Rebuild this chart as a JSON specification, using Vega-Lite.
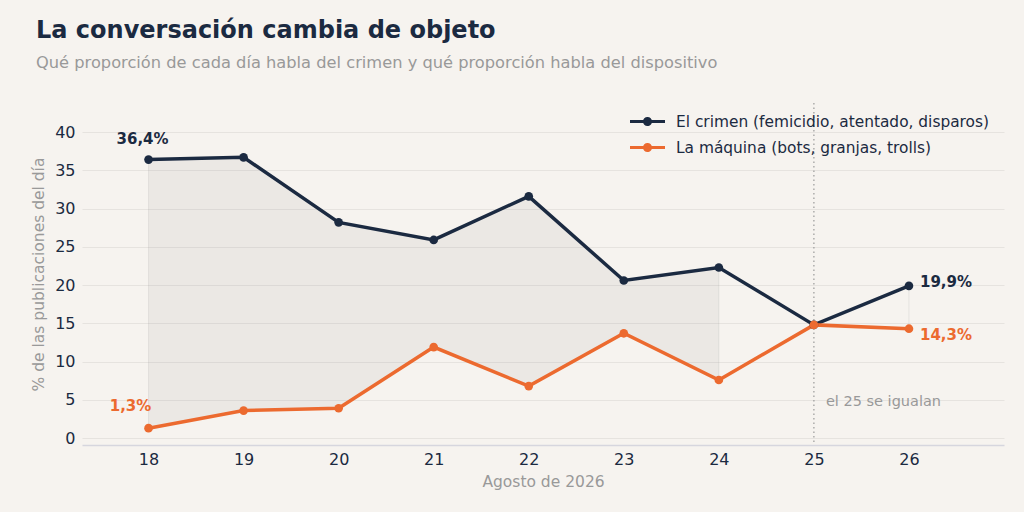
{
  "$schema": "https://vega.github.io/schema/vega-lite/v6.json",
  "description": "La conversación cambia de objeto",
  "width": 922,
  "height": 342,
  "autosize": {"type": "none"},
  "padding": {"left": 82, "top": 103, "right": 20, "bottom": 67},
  "background": "#f6f3ef",
  "title": {
    "text": "La conversación cambia de objeto",
    "subtitle": "Qué proporción de cada día habla del crimen y qué proporción habla del dispositivo",
    "anchor": "start",
    "frame": "group",
    "dx": -46,
    "offset": 31,
    "font": "DejaVu Sans",
    "fontSize": 24,
    "fontWeight": "bold",
    "color": "#1b2a41",
    "subtitleFont": "DejaVu Sans",
    "subtitleFontSize": 16.25,
    "subtitleColor": "#999999",
    "subtitlePadding": 12
  },
  "data": {
    "values": [
      {"dia": 18, "serie": "crimen", "valor": 36.4},
      {"dia": 19, "serie": "crimen", "valor": 36.7},
      {"dia": 20, "serie": "crimen", "valor": 28.2},
      {"dia": 21, "serie": "crimen", "valor": 25.9},
      {"dia": 22, "serie": "crimen", "valor": 31.6},
      {"dia": 23, "serie": "crimen", "valor": 20.6},
      {"dia": 24, "serie": "crimen", "valor": 22.3},
      {"dia": 25, "serie": "crimen", "valor": 14.8},
      {"dia": 26, "serie": "crimen", "valor": 19.9},
      {"dia": 18, "serie": "maquina", "valor": 1.3},
      {"dia": 19, "serie": "maquina", "valor": 3.6},
      {"dia": 20, "serie": "maquina", "valor": 3.9},
      {"dia": 21, "serie": "maquina", "valor": 11.9},
      {"dia": 22, "serie": "maquina", "valor": 6.8},
      {"dia": 23, "serie": "maquina", "valor": 13.7},
      {"dia": 24, "serie": "maquina", "valor": 7.6},
      {"dia": 25, "serie": "maquina", "valor": 14.8},
      {"dia": 26, "serie": "maquina", "valor": 14.3}
    ]
  },
  "transform": [
    {"calculate": "replace(format(datum.valor, '.1f'), '.', ',') + '%'", "as": "etiqueta"}
  ],
  "encoding": {
    "x": {
      "field": "dia",
      "type": "quantitative",
      "title": "Agosto de 2026",
      "scale": {"domain": [17.3, 27.0], "nice": false, "zero": false},
      "axis": {
        "values": [18, 19, 20, 21, 22, 23, 24, 25, 26],
        "format": "d",
        "grid": false,
        "domain": true,
        "domainColor": "#d6d6de",
        "domainWidth": 1.5,
        "labelPadding": 6,
        "titlePadding": 7
      }
    },
    "y": {
      "field": "valor",
      "type": "quantitative",
      "title": "% de las publicaciones del día",
      "scale": {"domain": [-0.9, 43.8], "nice": false, "zero": false},
      "axis": {
        "values": [0, 5, 10, 15, 20, 25, 30, 35, 40],
        "domain": false,
        "grid": true,
        "labelPadding": 7,
        "titlePadding": 8
      }
    }
  },
  "layer": [
    {
      "transform": [
        {"pivot": "serie", "value": "valor", "groupby": ["dia"]},
        {"filter": "datum.dia <= 24"}
      ],
      "mark": {"type": "area", "color": "#8a8a8a", "opacity": 0.1},
      "encoding": {
        "y": {"field": "crimen", "type": "quantitative"},
        "y2": {"field": "maquina"}
      }
    },
    {
      "transform": [
        {"pivot": "serie", "value": "valor", "groupby": ["dia"]},
        {"filter": "datum.dia == 18 || datum.dia == 24 || datum.dia == 26"}
      ],
      "mark": {"type": "rule", "color": "#8a8a8a", "opacity": 0.15, "strokeWidth": 1},
      "encoding": {
        "y": {"field": "crimen", "type": "quantitative"},
        "y2": {"field": "maquina"}
      }
    },
    {
      "transform": [{"filter": "datum.dia == 25 && datum.serie == 'crimen'"}],
      "mark": {"type": "rule", "color": "#999999", "strokeWidth": 1.2, "strokeDash": [1.5, 3]},
      "encoding": {
        "y": {"datum": 43.8, "type": "quantitative"},
        "y2": {"datum": -0.9}
      }
    },
    {
      "mark": {"type": "line", "strokeWidth": 3.5, "point": {"filled": true, "size": 75}},
      "encoding": {
        "color": {
          "field": "serie",
          "type": "nominal",
          "scale": {"domain": ["crimen", "maquina"], "range": ["#1b2a41", "#ec6a2f"]},
          "legend": {
            "orient": "none",
            "legendX": 548,
            "legendY": 1,
            "title": null,
            "symbolType": "M-1,-0.09L1,-0.09L1,0.09L-1,0.09Z M-0.26,0A0.26,0.26 0 1,1 0.26,0A0.26,0.26 0 1,1 -0.26,0Z",
            "symbolSize": 1225,
            "symbolStrokeWidth": 0,
            "labelFont": "DejaVu Sans",
            "labelFontSize": 15.4,
            "labelColor": "#1b2a41",
            "labelOffset": 11,
            "labelLimit": 500,
            "rowPadding": 0,
            "labelExpr": "datum.value == 'crimen' ? 'El crimen (femicidio, atentado, disparos)' : 'La máquina (bots, granjas, trolls)'",
            "encode": {
              "symbols": {
                "update": {
                  "fill": {"scale": "color", "field": "value"},
                  "strokeWidth": {"value": 0}
                }
              }
            }
          }
        }
      }
    },
    {
      "transform": [{"filter": "datum.dia == 18 && datum.serie == 'crimen'"}],
      "mark": {"type": "text", "font": "DejaVu Sans", "fontSize": 15, "fontWeight": "bold", "color": "#1b2a41", "align": "center", "dx": -6, "dy": -21},
      "encoding": {"text": {"field": "etiqueta"}}
    },
    {
      "transform": [{"filter": "datum.dia == 18 && datum.serie == 'maquina'"}],
      "mark": {"type": "text", "font": "DejaVu Sans", "fontSize": 15, "fontWeight": "bold", "color": "#ec6a2f", "align": "center", "dx": -18, "dy": -22},
      "encoding": {"text": {"field": "etiqueta"}}
    },
    {
      "transform": [{"filter": "datum.dia == 26 && datum.serie == 'crimen'"}],
      "mark": {"type": "text", "font": "DejaVu Sans", "fontSize": 15, "fontWeight": "bold", "color": "#1b2a41", "align": "left", "dx": 11, "dy": -4},
      "encoding": {"text": {"field": "etiqueta"}}
    },
    {
      "transform": [{"filter": "datum.dia == 26 && datum.serie == 'maquina'"}],
      "mark": {"type": "text", "font": "DejaVu Sans", "fontSize": 15, "fontWeight": "bold", "color": "#ec6a2f", "align": "left", "dx": 11, "dy": 6},
      "encoding": {"text": {"field": "etiqueta"}}
    },
    {
      "transform": [{"filter": "datum.dia == 25 && datum.serie == 'crimen'"}],
      "mark": {"type": "text", "text": "el 25 se igualan", "font": "DejaVu Sans", "fontSize": 14.5, "color": "#999999", "align": "left", "dx": 12},
      "encoding": {
        "y": {"datum": 4.7, "type": "quantitative"}
      }
    }
  ],
  "config": {
    "view": {"stroke": null},
    "axis": {
      "labelFont": "DejaVu Sans",
      "labelFontSize": 16,
      "labelColor": "#1b2a41",
      "titleFont": "DejaVu Sans",
      "titleFontSize": 15.5,
      "titleFontWeight": "normal",
      "titleColor": "#999999",
      "ticks": false,
      "gridColor": "#e6e3df",
      "gridWidth": 1
    }
  }
}
